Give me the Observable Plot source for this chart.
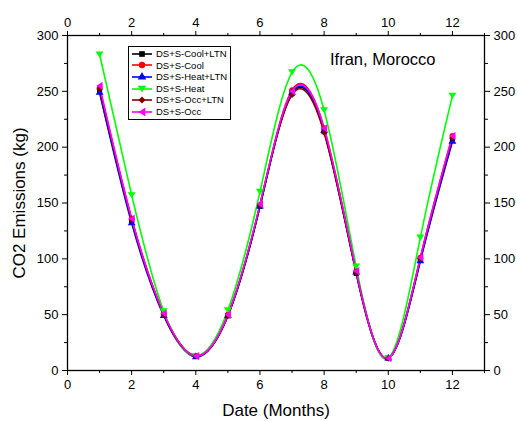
<!DOCTYPE html>
<html><head><meta charset="utf-8">
<script src="https://cdn.jsdelivr.net/npm/d3@7"></script>
<script src="https://cdn.jsdelivr.net/npm/@observablehq/plot@0.6"></script>
<style>
body{margin:0;background:#fff;font-family:"Liberation Sans",Arial,sans-serif;}
#wrap{position:relative;width:517px;height:421px;}
#legend{position:absolute;left:128px;top:46px;border:1px solid #000;background:#fff;padding:1px 3px 1px 2px;font-size:9.5px;line-height:11.6px;}
#legend div{display:flex;align-items:center;white-space:nowrap;}
#legend svg{margin-right:3px;}
</style></head>
<body><div id="wrap"></div>
<script>
const months = [1,2,3,4,5,6,7,8,9,10,11,12];
const names = ["DS+S-Cool+LTN","DS+S-Cool","DS+S-Heat+LTN","DS+S-Heat","DS+S-Occ+LTN","DS+S-Occ"];
const colors = ["#000000","#ff0000","#0000ff","#00ff00","#800000","#ff00ff"];
const coolLtn = [250,134,50,13,49,147,248,214,87,11,99,207];
const cool    = [253,136,51,13,50,148,251,217,89,11,101,210];
const heatLtn = [249,132,49,12,49,147,249,215,88,11,98,205];
const heat    = [283,157,53,13,54,160,267,233,93,11,119,246];
const occLtn  = [252,135,50,13,49,148,247,213,88,11,100,208];
const occ     = [255,136,51,13,50,149,250,217,89,11,101,210];
const seriesValues = [coolLtn, cool, heatLtn, heat, occLtn, occ];
const xMajor = [0,2,4,6,8,10,12];
const xMinor = [1,3,5,7,9,11,13];
const yMajor = [0,50,100,150,200,250,300];
const yMinor = [25,75,125,175,225,275];

const triDown = {draw(ctx, size){const r=Math.sqrt(size/ (Math.sqrt(3)/4*3))*0.9; const h=r*1.5; ctx.moveTo(-r*0.866*1.15, -h/2); ctx.lineTo(r*0.866*1.15, -h/2); ctx.lineTo(0, h/2); ctx.closePath();}};
const triLeft = {draw(ctx, size){const r=Math.sqrt(size/ (Math.sqrt(3)/4*3))*0.9; const h=r*1.5; ctx.moveTo(-h/2, 0); ctx.lineTo(h/2, -r*0.866*1.15); ctx.lineTo(h/2, r*0.866*1.15); ctx.closePath();}};
const symbols = ["square","circle","triangle",triDown,"diamond2",triLeft];

const marks = [];
seriesValues.forEach((vals, i) => {
  const d = months.map((m, j) => ({m, v: vals[j]}));
  marks.push(Plot.line(d, {x:"m", y:"v", curve:"natural", stroke: colors[i], strokeWidth: 1.6}));
});
seriesValues.forEach((vals, i) => {
  const d = months.map((m, j) => ({m, v: vals[j]}));
  marks.push(Plot.dot(d, {x:"m", y:"v", symbol: symbols[i], fill: colors[i], stroke: "none", r: 2.9}));
});

const axFont = 13;
const plot = Plot.plot({
  width: 517, height: 421,
  marginLeft: 67, marginRight: 33, marginTop: 35, marginBottom: 51,
  style: {fontFamily: '"Liberation Sans", Arial, sans-serif', fontSize: axFont + "px", background: "#fff"},
  x: {domain: [0, 13]},
  y: {domain: [0, 300]},
  marks: [
    ...marks,
    Plot.frame({stroke: "#000", strokeWidth: 1.3}),
    Plot.axisX(xMajor, {anchor: "bottom", tickSize: 5, tickPadding: 4, label: "Date (Months)", labelAnchor: "center", labelArrow: "none", labelOffset: 45, fontSize: axFont, fill:"#000"}),
    Plot.axisX(xMinor, {anchor: "bottom", tickSize: 3, tickFormat: () => "", label: null}),
    Plot.axisX(xMajor, {anchor: "top", tickSize: 5, tickPadding: 4, label: null, fontSize: axFont}),
    Plot.axisX(xMinor, {anchor: "top", tickSize: 3, tickFormat: () => "", label: null}),
    Plot.axisY(yMajor, {anchor: "left", tickSize: 5, tickPadding: 4, label: "CO2 Emissions (kg)", labelAnchor: "center", labelArrow: "none", labelOffset: 55, fontSize: axFont}),
    Plot.axisY(yMinor, {anchor: "left", tickSize: 3, tickFormat: () => "", label: null}),
    Plot.axisY(yMajor, {anchor: "right", tickSize: 5, tickPadding: 4, label: null, fontSize: axFont}),
    Plot.axisY(yMinor, {anchor: "right", tickSize: 3, tickFormat: () => "", label: null}),
    Plot.text(["Ifran, Morocco"], {frameAnchor: "top-right", dx: -49, dy: 18, fontSize: 16.5, textAnchor: "end", fill: "#000"})
  ]
});
plot.querySelectorAll('[aria-label="x-axis label"] text, [aria-label="y-axis label"] text').forEach(t => t.setAttribute("font-size", "17"));
document.getElementById("wrap").appendChild(plot);

// legend
const leg = document.createElement("div");
leg.id = "legend";
const symMap = [d3.symbolSquare, d3.symbolCircle, d3.symbolTriangle, triDown, d3.symbolDiamond2, triLeft];
names.forEach((n, i) => {
  const row = document.createElement("div");
  const svg = d3.create("svg").attr("width", 22).attr("height", 10);
  svg.append("line").attr("x1", 1).attr("x2", 21).attr("y1", 5).attr("y2", 5).attr("stroke", colors[i]).attr("stroke-width", 1.6);
  svg.append("path").attr("transform", "translate(11,5)").attr("d", d3.symbol(symMap[i], 32)()).attr("fill", colors[i]);
  row.appendChild(svg.node());
  const s = document.createElement("span"); s.textContent = n; row.appendChild(s);
  leg.appendChild(row);
});
document.getElementById("wrap").appendChild(leg);
</script></body></html>
